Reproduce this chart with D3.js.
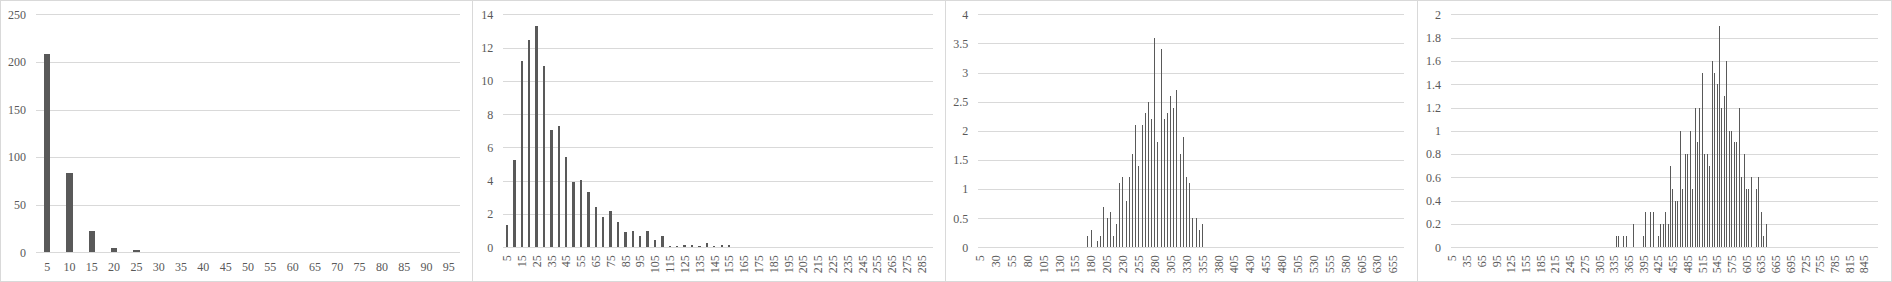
<!DOCTYPE html>
<html>
<head>
<meta charset="utf-8">
<script src="https://cdn.jsdelivr.net/npm/d3@7"></script>
<style>
  html, body { margin: 0; padding: 0; background: #fff; }
  svg { display: block; }
</style>
</head>
<body>
<div id="chart"></div>
<script>

// x categories (bin values) of each panel
const binsA = d3.range(5, 100, 5);    // 5 .. 95
const binsB = d3.range(5, 295, 5);    // 5 .. 290
const binsC = d3.range(5, 675, 5);    // 5 .. 670
const binsD = d3.range(5, 875, 5);    // 5 .. 870

// bar heights, starting at the first bin that has data
const firstA = 5;
const valuesA = [208, 83, 22, 4, 2];

const firstB = 5;
const valuesB = [1.35, 5.25, 11.2, 12.45, 13.3, 10.9, 7.05, 7.3, 5.4, 3.9,
                 4.05, 3.3, 2.4, 1.8, 2.2, 1.5, 0.9, 1.0, 0.7, 1.0,
                 0.45, 0.7, 0.08, 0.08, 0.14, 0.14, 0.08, 0.26, 0.08, 0.14, 0.14];

const firstC = 175;
const valuesC = [0.2, 0.3, 0, 0.1, 0.2, 0.7, 0.5, 0.6, 0.2, 0.4,
                 1.1, 1.2, 0.8, 1.2, 1.6, 2.1, 1.4, 2.1, 2.3, 2.5,
                 2.2, 3.6, 1.8, 3.4, 2.2, 2.3, 2.6, 2.4, 2.7, 1.6,
                 1.9, 1.2, 1.1, 0.5, 0.5, 0.3, 0.4];

const firstD = 340;
const valuesD = [0.1, 0.1, 0, 0.1, 0.1, 0, 0, 0.2, 0, 0,
                 0, 0.1, 0.3, 0, 0.3, 0.3, 0, 0.1, 0.2, 0.2,
                 0.3, 0.2, 0.7, 0.5, 0.4, 0.4, 1.0, 0.5, 0.8, 0.8,
                 1.0, 0.5, 1.2, 0.9, 1.2, 1.5, 0.8, 0.8, 0.7, 1.6,
                 1.5, 1.4, 1.9, 1.2, 1.3, 1.6, 1.0, 1.0, 0.9, 0.9,
                 1.2, 0.6, 0.8, 0.5, 0.5, 0.6, 0, 0.5, 0.6, 0.3,
                 0.1, 0.2];

// y tick labels
const yTicksA = [0, 50, 100, 150, 200, 250];
const yTicksB = [0, 2, 4, 6, 8, 10, 12, 14];
const yTicksC = [0, 0.5, 1, 1.5, 2, 2.5, 3, 3.5, 4];
const yTicksD = [0, 0.2, 0.4, 0.6, 0.8, 1, 1.2, 1.4, 1.6, 1.8, 2];

// constants
const width = 1892;
const height = 282;
const gridColor = "#d9d9d9";
const inkColor = "#595959";
const fontFamily = '"Liberation Serif", "Times New Roman", serif';

const svg = d3.select("#chart")
    .append("svg")
    .attr("width", width)
    .attr("height", height);

// one panel = one small excel-like column chart
function drawPanel(p) {
    const g = svg.append("g")
        .attr("transform", `translate(${p.left},0)`);

    // chart frame
    g.append("rect")
        .attr("x", 0.5)
        .attr("y", 0.5)
        .attr("width", p.width - 1)
        .attr("height", height - 1)
        .attr("fill", "#fff")
        .attr("stroke", gridColor);

    const x = d3.scaleBand()
        .domain(p.bins)
        .range([p.x0, p.x1]);

    const y = d3.scaleLinear()
        .domain([0, d3.max(p.yTicks)])
        .range([p.yBottom, p.yTop]);

    // y axis with gridlines
    const yAxis = g.append("g")
        .attr("transform", `translate(${p.x0},0)`)
        .call(d3.axisLeft(y)
            .tickValues(p.yTicks)
            .tickSize(-(p.x1 - p.x0))
            .tickPadding(10)
            .tickFormat(d => String(+d.toFixed(1))))
        .attr("font-family", fontFamily)
        .attr("font-size", 12);
    yAxis.select(".domain").remove();
    yAxis.selectAll("line")
        .attr("stroke", gridColor)
        .attr("shape-rendering", "crispEdges");
    yAxis.selectAll("text")
        .attr("fill", inkColor);

    // bars
    const bars = p.values
        .map((v, i) => ({ bin: p.first + i * 5, value: v }))
        .filter(d => d.value > 0);

    const bw = Math.max(1, x.bandwidth() * p.barRatio);

    g.append("g")
        .selectAll("rect")
        .data(bars)
        .join("rect")
        .attr("x", d => x(d.bin) + x.bandwidth() / 2 - bw / 2)
        .attr("y", d => y(d.value))
        .attr("width", bw)
        .attr("height", d => y(0) - y(d.value))
        .attr("fill", inkColor)
        .attr("shape-rendering", "crispEdges");

    // x axis labels
    const xAxis = g.append("g")
        .attr("transform", `translate(0,${p.yBottom})`)
        .call(d3.axisBottom(x)
            .tickValues(p.bins.filter((d, i) => i % p.labelStep === 0))
            .tickSize(0)
            .tickPadding(10))
        .attr("font-family", fontFamily)
        .attr("font-size", 12);
    xAxis.select(".domain").remove();
    xAxis.selectAll("text")
        .attr("fill", inkColor);

    if (p.rotate) {
        xAxis.selectAll("text")
            .attr("transform", "rotate(-90)")
            .attr("x", -8)
            .attr("y", 0)
            .attr("dy", "0.35em")
            .style("text-anchor", "end");
    }
}

drawPanel({
    left: 0, width: 473,
    x0: 36, x1: 460, yTop: 14.3, yBottom: 252.3,
    bins: binsA, first: firstA, values: valuesA, yTicks: yTicksA,
    labelStep: 1, rotate: false, barRatio: 0.28
});

drawPanel({
    left: 472, width: 474,
    x0: 31.3, x1: 460.7, yTop: 14.3, yBottom: 247.3,
    bins: binsB, first: firstB, values: valuesB, yTicks: yTicksB,
    labelStep: 2, rotate: true, barRatio: 0.32
});

drawPanel({
    left: 945, width: 473,
    x0: 33.3, x1: 459.3, yTop: 14.3, yBottom: 247.3,
    bins: binsC, first: firstC, values: valuesC, yTicks: yTicksC,
    labelStep: 5, rotate: true, barRatio: 0.3
});

drawPanel({
    left: 1417, width: 475,
    x0: 34, x1: 460.7, yTop: 14.3, yBottom: 247.3,
    bins: binsD, first: firstD, values: valuesD, yTicks: yTicksD,
    labelStep: 6, rotate: true, barRatio: 0.3
});

</script>
</body>
</html>
